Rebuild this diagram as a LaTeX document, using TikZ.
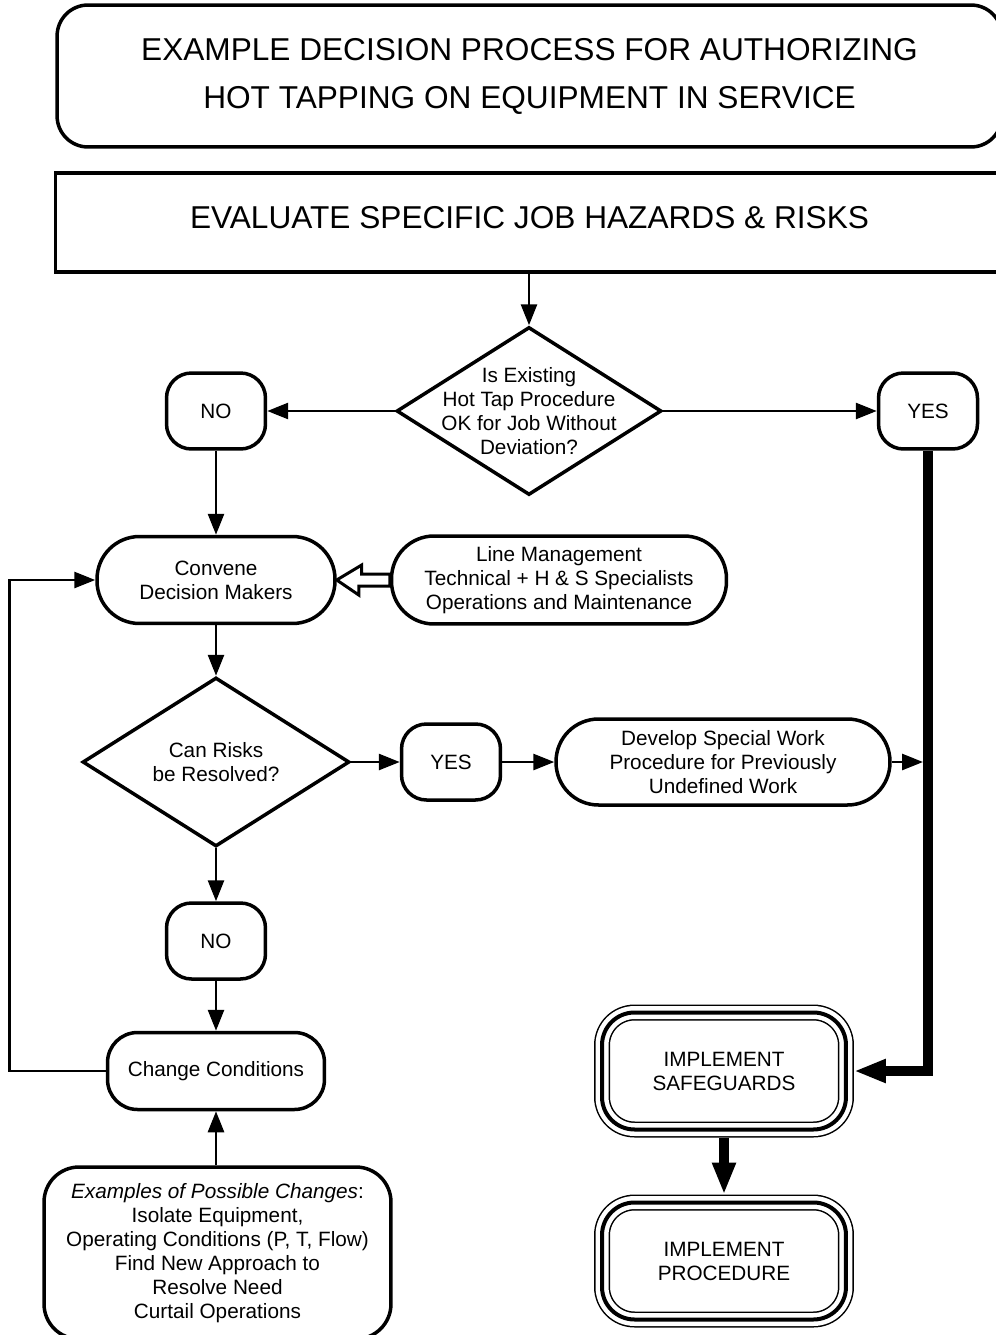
\documentclass[tikz,border=0pt]{standalone}
\usepackage{fontspec}
\setmainfont{Liberation Sans}
\usetikzlibrary{shapes,arrows.meta,positioning,calc}
\newcommand{\flowfont}{\fontsize{11.8pt}{13.7pt}\selectfont}
\newcommand{\headfont}{\fontsize{18pt}{27.3pt}\selectfont}
\tikzset{
      flowedge/.style   = {black, line width=0.055cm, -{Triangle[length=0.42cm,width=0.32cm]}},
      mainedge/.style   = {black, line width=0.2cm, line join=miter, -{Triangle[length=0.64cm,width=0.44cm]}},
      hollowedge/.style = {black, line width=0.06cm, fill=white, line join=miter},
      answer/.style     = {draw, line width=0.07cm, rounded corners=0.5cm, minimum width=1.98cm, minimum height=1.52cm, inner sep=0pt},
      actbox/.style     = {draw, line width=0.07cm, inner sep=0pt, align=center},
      decision/.style   = {draw, diamond, line width=0.07cm, inner sep=0pt},
      safebox/.style    = {draw, line width=0.32cm, rounded corners=0.65cm, inner sep=0pt, align=center,
                           minimum width=4.88cm, minimum height=2.34cm,
                           postaction={draw=white, line width=0.26cm},
                           postaction={draw=black, line width=0.08cm}},
    }

\begin{document}
\begin{tikzpicture}[x=0.02cm, y=-0.02cm]
          \tikzstyle{every node} = [font=\flowfont]
          \useasboundingbox (0,0) rectangle (996,1335);

          \node [actbox, rounded corners=0.62cm, minimum width=18.9cm, minimum height=2.84cm, font=\headfont] (title) at (529.5,76)
                {EXAMPLE DECISION PROCESS FOR AUTHORIZING\\HOT TAPPING ON EQUIPMENT IN SERVICE};
          \node [actbox, minimum width=18.96cm, minimum height=1.98cm, text depth=0.2cm, font=\headfont] (eval) at (529.5,222.5)
                {EVALUATE SPECIFIC JOB HAZARDS \& RISKS};

          \node [decision, minimum width=5.3cm, minimum height=3.36cm] (d1) at (529,411) {};
          \node [align=center] (d1text) at (d1) {Is Existing\\Hot Tap Procedure\\OK for Job Without\\Deviation?};
          \node [answer] (no1) at (216,411) {NO};
          \node [answer] (yes1) at (928,411) {YES};

          \node [actbox, rounded corners=0.85cm, minimum width=4.76cm, minimum height=1.74cm] (conv) at (216,580)
                {Convene\\Decision Makers};
          \node [actbox, rounded corners=0.85cm, minimum width=6.7cm, minimum height=1.76cm] (lm) at (559,580)
                {Line Management\\Technical + H \& S Specialists\\Operations and Maintenance};

          \node [decision, minimum width=5.34cm, minimum height=3.38cm, align=center] (d2) at (216,762)
                {Can Risks\\be Resolved?};
          \node [answer] (yes2) at (451,762) {YES};
          \node [actbox, rounded corners=0.85cm, minimum width=6.68cm, minimum height=1.72cm] (dev) at (723,762)
                {Develop Special Work\\Procedure for Previously\\Undefined Work};

          \node [answer] (no2) at (216,941) {NO};
          \node [actbox, rounded corners=0.6cm, minimum width=4.34cm, minimum height=1.54cm] (chg) at (216,1071)
                {Change Conditions};
          \node [actbox, rounded corners=0.7cm, minimum width=6.94cm, minimum height=3.44cm] (ex) at (217.5,1253)
                {\textit{Examples of Possible Changes}:\\Isolate Equipment,\\Operating Conditions (P, T, Flow)\\Find New Approach to\\Resolve Need\\Curtail Operations};

          \node [safebox] (safe) at (724,1071) {IMPLEMENT\\SAFEGUARDS};
          \node [safebox] (proc) at (724,1261) {IMPLEMENT\\PROCEDURE};

          \draw [flowedge] (d1.north |- eval.south) -- (d1.north);
          \draw [flowedge] (d1.west) -- (no1.east);
          \draw [flowedge] (d1.east) -- (yes1.west);
          \draw [flowedge] (no1) -- (conv);
          \draw [hollowedge] (conv.east) -- ++(25,-15) -- ++(0,9) -- ([yshift=0.12cm]lm.west)
                -- ([yshift=-0.12cm]lm.west) -- ++(-31,0) -- ++(0,9) -- cycle;
          \draw [flowedge] (conv) -- (d2);
          \draw [flowedge] (d2.east) -- (yes2.west);
          \draw [flowedge] (yes2) -- (dev);
          \draw [flowedge, shorten >=0.1cm] (dev.east) -- (dev.east -| yes1.south);
          \draw [flowedge] (d2) -- (no2);
          \draw [flowedge] (no2) -- (chg);
          \draw [flowedge] (chg.south |- ex.north) -- (chg.south);
          \draw [flowedge] (chg.west) -- ++(-96,0) |- (conv.west);
          \draw [mainedge] (yes1.south) |- (safe.east);
          \draw [mainedge] (safe) -- (proc);
\end{tikzpicture}
\end{document}
